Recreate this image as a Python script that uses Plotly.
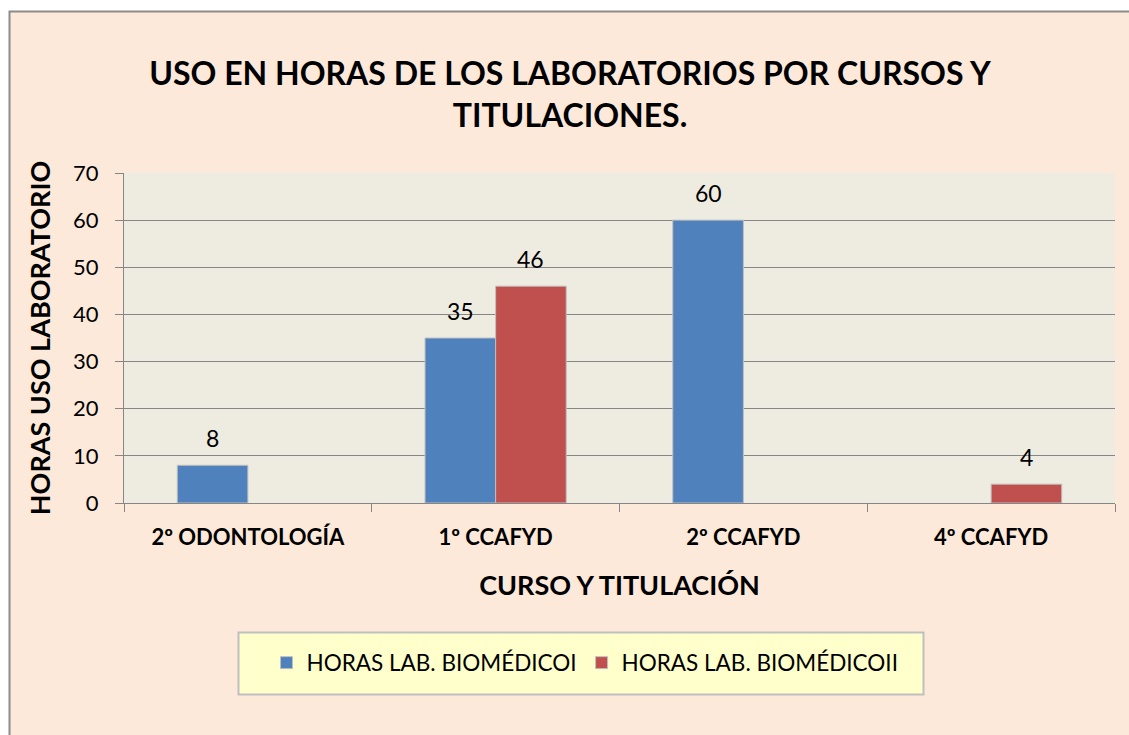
import plotly.graph_objects as go

categories = ["2º ODONTOLOGÍA", "1º CCAFYD", "2º CCAFYD", "4º CCAFYD"]
series_names = ["HORAS LAB. BIOMÉDICOI", "HORAS LAB. BIOMÉDICOII"]
lab1 = [8, 35, 60, None]
lab2 = [None, 46, None, 4]
colors = ["#4F81BD", "#C0504D"]
y_ticks = [0, 10, 20, 30, 40, 50, 60, 70]

FONT = "Lato"
W, H = 1129, 735
L, R, T, B = 124, 14, 173, 232
pw, ph = W - L - R, H - T - B

def px_x(p):  # page pixel -> paper x
    return (p - L) / pw

def px_y(p):  # page pixel -> paper y
    return (H - B - p) / ph

fig = go.Figure()
for name, vals, col in zip(series_names, [lab1, lab2], colors):
    fig.add_trace(go.Bar(
        x=categories, y=vals, name=name,
        marker=dict(color=col, line=dict(color="#BFBFBF", width=1)),
    ))

offs = [-35, 35]
annos = []
for vals, off in zip([lab1, lab2], offs):
    for c, v in zip(categories, vals):
        if v is None:
            continue
        annos.append(dict(x=c, y=v, xref="x", yref="y", text=str(v), showarrow=False,
                          xshift=off, yshift=27, font=dict(family=FONT, size=23, color="#000000")))

fig.update_layout(
    width=W, height=H,
    margin=dict(l=L, r=R, t=T, b=B, autoexpand=False),
    paper_bgcolor="#FFFFFF",
    plot_bgcolor="rgba(0,0,0,0)",
    barmode="group", bargap=0.43, bargroupgap=0,
    font=dict(family=FONT, color="#000000"),
    title=dict(text="USO EN HORAS DE LOS LABORATORIOS POR CURSOS Y<br>TITULACIONES.",
               x=px_x(570), xref="paper", xanchor="center",
               y=1 - 85 / H, yref="container", yanchor="middle",
               font=dict(family=FONT, size=32, color="#000000", weight="bold")),
    showlegend=True,
    legend=dict(orientation="h", x=px_x(585), xanchor="center", y=px_y(663), yanchor="middle",
                bgcolor="rgba(0,0,0,0)", font=dict(family=FONT, size=22.5, color="#000000"),
                itemwidth=30, traceorder="normal"),
    annotations=annos,
    shapes=[
        dict(type="rect", xref="paper", yref="paper", x0=px_x(9.5), x1=px_x(1160), y0=px_y(760), y1=px_y(11.5),
             fillcolor="#FDE9D9", line=dict(color="#8C8C8C", width=2), layer="below"),
        dict(type="rect", xref="paper", yref="paper", x0=0, x1=1, y0=0, y1=1,
             fillcolor="#EEECE1", line=dict(width=0), layer="below"),
        dict(type="rect", xref="paper", yref="paper", x0=px_x(238.5), x1=px_x(923.5), y0=px_y(694.5), y1=px_y(632.5),
             fillcolor="#FFFFCC", line=dict(color="#BFBFBF", width=2), layer="below"),
    ],
)

fig.update_yaxes(range=[0, 70], tickvals=y_ticks, showgrid=True, gridcolor="#868686", gridwidth=1,
                 showline=True, linecolor="#868686", linewidth=1, ticks="outside", ticklen=8,
                 tickcolor="#868686", tickfont=dict(family=FONT, size=22), ticklabelstandoff=12,
                 zeroline=False,
                 title=dict(text="HORAS USO LABORATORIO", standoff=14,
                            font=dict(family=FONT, size=27, weight="bold")))
fig.update_xaxes(showline=True, linecolor="#868686", linewidth=1, ticks="outside", ticklen=8,
                 tickcolor="#868686", tickson="boundaries", showgrid=False,
                 tickfont=dict(family=FONT, size=22, weight="bold"), ticklabelstandoff=15,
                 title=dict(text="CURSO Y TITULACIÓN", standoff=26,
                            font=dict(family=FONT, size=27, weight="bold")))

fig.write_html("out.html", config={"displayModeBar": False},
               post_script="document.body.style.margin='0';document.body.style.overflow='hidden';")
